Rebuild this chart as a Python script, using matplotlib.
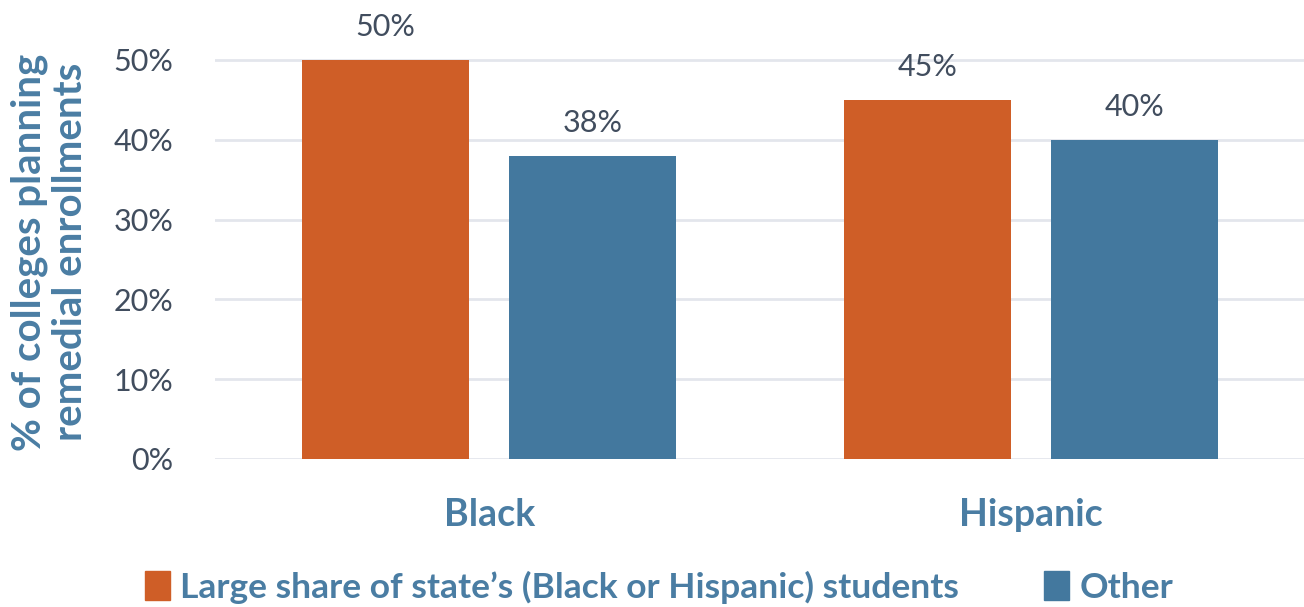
import numpy as np
import matplotlib.pyplot as plt
from matplotlib.patches import Patch

plt.rcParams['font.family'] = ['Lato', 'DejaVu Sans']

categories = ['Black', 'Hispanic']
large_share = [0.50, 0.45]
other = [0.38, 0.40]
series_names = ["Large share of state\u2019s (Black or Hispanic) students", 'Other']

orange = '#CF5E27'
blue = '#43789E'
text_col = '#414D5E'
label_blue = '#4A7DA3'

fig = plt.figure(figsize=(13.04, 6.07), dpi=100)
ax = fig.add_axes([215 / 1304, 148 / 607, 1 - 215 / 1304, (459 - 20) / 607])

x = np.arange(len(categories))
w = 0.308
off = 0.191
b1 = ax.bar(x - off, large_share, w, color=orange)
b2 = ax.bar(x + off, other, w, color=blue)

for bars in (b1, b2):
    for rect in bars:
        h = rect.get_height()
        ax.text(rect.get_x() + rect.get_width() / 2, h + 0.024, f'{h:.0%}',
                ha='center', va='bottom', fontsize=22, color=text_col)

ax.set_xlim(-0.506, 1.504)
ax.set_ylim(0, 0.55)
ax.set_yticks(np.arange(0, 0.51, 0.1))
ax.set_yticklabels([f'{int(round(v * 100))}%' for v in np.arange(0, 0.51, 0.1)])
ax.tick_params(axis='y', length=0, pad=30, labelsize=22, labelcolor=text_col)
ax.set_xticks(x)
ax.set_xticklabels(categories, fontsize=27, fontweight='bold', color=label_blue)
ax.tick_params(axis='x', length=0, pad=28)
ax.yaxis.grid(True, color='#E3E6EC', linewidth=2)
ax.set_axisbelow(True)
for s in ax.spines.values():
    s.set_visible(False)

fig.text(50 / 1304, 1 - 252 / 607, '% of colleges planning\nremedial enrollments',
         rotation=90, ha='center', va='center', fontsize=29, fontweight='bold',
         color=label_blue, linespacing=1.12)

handles = [Patch(color=orange), Patch(color=blue)]
fig.legend(handles, series_names, loc='center', bbox_to_anchor=(659 / 1304, 1 - 587 / 607),
           ncol=2, frameon=False, labelcolor=label_blue,
           prop={'weight': 'bold', 'size': 25.5}, handlelength=0.7, handleheight=0.9,
           handletextpad=0.3, columnspacing=2.4)

fig.savefig('out.png', dpi=100)
